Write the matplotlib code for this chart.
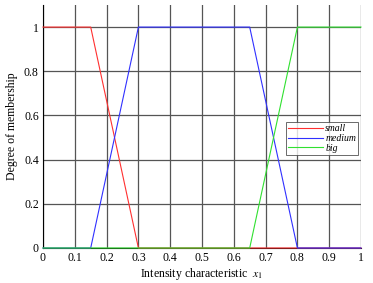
import matplotlib
matplotlib.use("Agg")
import matplotlib.pyplot as plt

plt.rcParams['font.family'] = ['Liberation Serif', 'DejaVu Serif']
plt.rcParams['mathtext.fontset'] = 'stix'

x_small = [0, 0.15, 0.3, 1.0]
y_small = [1, 1, 0, 0]
x_medium = [0, 0.15, 0.3, 0.65, 0.8, 1.0]
y_medium = [0, 0, 1, 1, 0, 0]
x_big = [0, 0.65, 0.8, 1.0]
y_big = [0, 0, 1, 1]
labels = ['small', 'medium', 'big']
xticks = [0, 0.1, 0.2, 0.3, 0.4, 0.5, 0.6, 0.7, 0.8, 0.9, 1]
yticks = [0, 0.2, 0.4, 0.6, 0.8, 1]

fig = plt.figure(figsize=(3.73, 2.83), dpi=100)
ax = fig.add_axes([43/373, 1-248/283, (361-43)/373, (248-5)/283])

ax.plot(x_small, y_small, color='#ff3030', lw=0.8, label=labels[0], zorder=3, clip_on=False)
ax.plot(x_medium, y_medium, color='#3030ff', lw=0.8, label=labels[1], zorder=3, clip_on=False)
ax.plot(x_big, y_big, color='#30e030', lw=0.8, label=labels[2], zorder=3, clip_on=False)

ax.set_xlim(0, 1)
ax.set_ylim(0, 1.1)
ax.set_xticks(xticks)
ax.set_xticklabels([f'{t:g}' for t in xticks])
ax.set_yticks(yticks)
ax.set_yticklabels([f'{t:g}' for t in yticks])
ax.grid(True, color='#555555', lw=0.9)
ax.set_axisbelow(True)
ax.tick_params(labelsize=8.5, length=0, pad=3)
for s in ['top', 'right']:
    ax.spines[s].set_visible(False)
ax.spines['left'].set_linewidth(0.8)
ax.spines['bottom'].set_linewidth(0.8)

ax.set_xlabel('Intensity characteristic  $x_1$', fontsize=8.5, labelpad=1)
ax.set_ylabel('Degree of membership', fontsize=8.5, labelpad=4)

leg = ax.legend(loc='upper right', bbox_to_anchor=((358-43)/318, 1-(122-5)/243),
                fontsize=7, frameon=True, fancybox=False, edgecolor='#444444',
                handlelength=3.6, handletextpad=0.2, borderpad=0.2, labelspacing=0.1,
                borderaxespad=0)
leg.get_frame().set_linewidth(0.7)
leg.set_zorder(5)
for t in leg.get_texts():
    t.set_fontstyle('italic')

fig.savefig('out.png', dpi=100)
